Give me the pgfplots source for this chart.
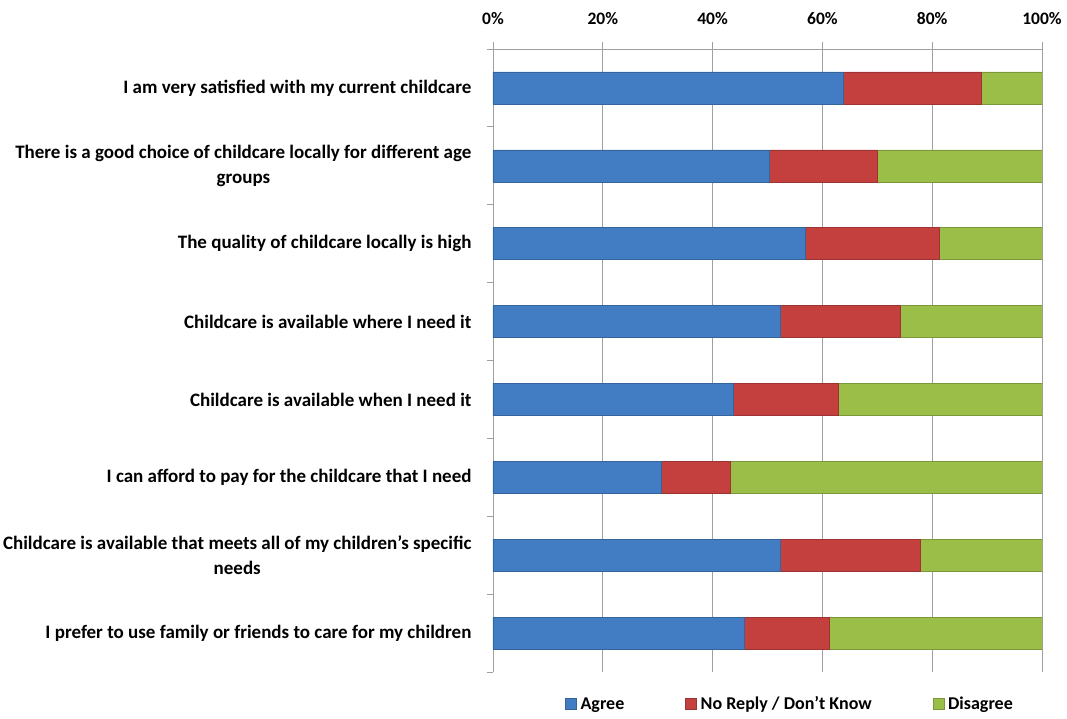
\documentclass[border=0pt]{standalone}
\usepackage{fontspec}
\setmainfont{Carlito}
\usepackage{pgfplots}
\pgfplotsset{compat=1.18}
\definecolor{cAgree}{RGB}{66,125,196}
\definecolor{cNo}{RGB}{196,64,62}
\definecolor{cDis}{RGB}{155,190,72}
\definecolor{gridc}{RGB}{160,160,160}
\pgfplotstableread{
y agree noreply disagree
0 63.8 25.2 11.0
1 50.4 19.5 30.1
2 56.9 24.4 18.7
3 52.4 21.7 25.9
4 43.8 19.0 37.2
5 30.6 12.6 56.8
6 52.4 25.4 22.2
7 45.8 15.5 38.7
}\datatable
\begin{document}
\begin{tikzpicture}
\begin{axis}[
  name=ax,
  scale only axis, width=549pt, height=623pt,
  xbar stacked, bar width=32pt,
  xmin=0, xmax=100, ymin=-0.5, ymax=7.5, y dir=reverse,
  axis x line*=top, axis y line*=left,
  axis line style={gridc, line width=0.9pt},
  xtick={0,20,...,100},
  xticklabel={\pgfmathprintnumber{\tick}\%},
  /pgf/number format/assume math mode=true,
  xticklabel style={font=\bfseries\fontsize{17.5}{19}\selectfont, yshift=14pt},
  xmajorgrids, grid style={gridc, line width=0.9pt},
  major tick length=7pt, minor tick length=6pt, tick align=outside,
  every major x tick/.append style={gridc, line width=0.9pt},
  ytick={0,...,7},
  every major y tick/.append style={draw=none},
  minor ytick={-0.5,0.5,...,7.5},
  every minor y tick/.append style={gridc, line width=0.9pt},
  yticklabels={
    {I am very satisfied with my current childcare},
    {There is a good choice of childcare locally for different age\\groups},
    {The quality of childcare locally is high},
    {Childcare is available where I need it},
    {Childcare is available when I need it},
    {I can afford to pay for the childcare that I need},
    {Childcare is available that meets all of my children’s specific\\needs},
    {I prefer to use family or friends to care for my children}},
  yticklabel style={align=center, xshift=-11pt, font=\bfseries\fontsize{19}{24.5}\selectfont},
  legend style={at={(0.541,-0.033)}, anchor=north, legend columns=3, draw=none,
    font=\bfseries\fontsize{18}{20}\selectfont,
    /tikz/every even column/.append style={column sep=59pt}},
  legend image code/.code={\fill[#1] (0pt,-5.5pt) rectangle (11pt,5.5pt); \path (13pt,0pt);},
]
\addplot[fill=cAgree, draw=cAgree!80!black, line width=0.4pt] table[x=agree, y=y] {\datatable};
\addplot[fill=cNo, draw=cNo!80!black, line width=0.4pt] table[x=noreply, y=y] {\datatable};
\addplot[fill=cDis, draw=cDis!80!black, line width=0.4pt] table[x=disagree, y=y] {\datatable};
\legend{Agree, No Reply / Don't Know, Disagree}
\end{axis}
\pgfresetboundingbox
\path ([shift={(-493pt,-47pt)}]ax.south west) rectangle ([shift={(25pt,49pt)}]ax.north east);
\end{tikzpicture}
\end{document}
